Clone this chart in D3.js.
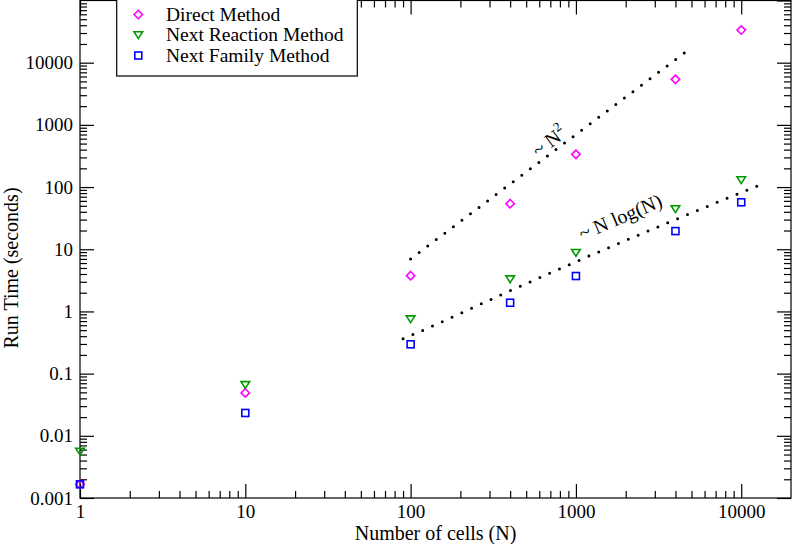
<!DOCTYPE html>
<html><head><meta charset="utf-8">
<script src="https://cdn.jsdelivr.net/npm/d3@7"></script>
<style>
html,body{margin:0;padding:0;background:#fff;}
svg{display:block;font-family:"Liberation Serif","Times New Roman",serif;}
</style></head>
<body>
<svg id="chart" width="792" height="544"></svg>
<script>
// ---- data ----
const cells = [1, 10, 100, 400, 1000, 4000, 10000];
const directMethod = [0.00166, 0.049, 3.76, 54, 336, 5400, 33500];
const nextReaction = [0.0056, 0.066, 0.755, 3.32, 8.8, 44.4, 130];
const nextFamily = [0.00166, 0.0233, 0.296, 1.38, 3.71, 19.6, 56.9];
const seriesNames = ["Direct Method", "Next Reaction Method", "Next Family Method"];
const xTickValues = [1, 10, 100, 1000, 10000];
const xTickLabels = ["1", "10", "100", "1000", "10000"];
const yTickValues = [0.001, 0.01, 0.1, 1, 10, 100, 1000, 10000];
const yTickLabels = ["0.001", "0.01", "0.1", "1", "10", "100", "1000", "10000"];
// guide lines
const guideSquareN = [100, 4600];
const guideSquareT = [7.0, 14800];
const guideNlogN_N = [90, 100, 400, 1000, 4000, 12500];
const guideNlogN_T = [0.365, 0.41, 2.15, 6.3, 30, 104];

const svg = d3.select("#chart");
const L = 80, R = 791, T = 0.5, B = 498;
const x = d3.scaleLog().domain([1, 20000]).range([L, R]);
const y = d3.scaleLog().domain([0.001, 100000]).range([B, T]);

function minors(lo, hi, maxv) {
  const out = [];
  for (let e = lo; e <= hi; e++) for (let m = 2; m <= 9; m++) {
    const v = m * Math.pow(10, e);
    if (v < maxv) out.push(v);
  }
  return out;
}
const xMinor = minors(0, 4, 20000);
const yMinor = minors(-3, 4, 100000);

const tickFont = "19px";
function styleAxis(g) {
  g.select(".domain").remove();
  g.selectAll("line").attr("stroke", "#000").attr("stroke-width", 1.2);
  g.selectAll("text").attr("font-size", tickFont).attr("fill", "#000")
    .attr("font-family", "Liberation Serif, Times New Roman, serif");
}

// bottom
svg.append("g").attr("transform", `translate(0,${B})`)
  .call(d3.axisBottom(x).tickValues(xTickValues).tickSize(-14).tickPadding(6.5)
    .tickFormat((d, i) => xTickLabels[i])).call(styleAxis);
svg.append("g").attr("transform", `translate(0,${B})`)
  .call(d3.axisBottom(x).tickValues(xMinor).tickSize(-7).tickFormat("")).call(styleAxis);
// top
svg.append("g").attr("transform", `translate(0,${T})`)
  .call(d3.axisTop(x).tickValues(xTickValues).tickSize(-14).tickFormat("")).call(styleAxis);
svg.append("g").attr("transform", `translate(0,${T})`)
  .call(d3.axisTop(x).tickValues(xMinor).tickSize(-7).tickFormat("")).call(styleAxis);
// left
svg.append("g").attr("transform", `translate(${L},0)`)
  .call(d3.axisLeft(y).tickValues(yTickValues).tickSize(-14).tickPadding(7)
    .tickFormat((d, i) => yTickLabels[i])).call(styleAxis);
svg.append("g").attr("transform", `translate(${L},0)`)
  .call(d3.axisLeft(y).tickValues(yMinor).tickSize(-7).tickFormat("")).call(styleAxis);
// right
svg.append("g").attr("transform", `translate(${R},0)`)
  .call(d3.axisRight(y).tickValues(yTickValues.concat([100000])).tickSize(-14).tickFormat("")).call(styleAxis);
svg.append("g").attr("transform", `translate(${R},0)`)
  .call(d3.axisRight(y).tickValues(yMinor).tickSize(-7).tickFormat("")).call(styleAxis);

// frame
svg.append("rect").attr("x", L).attr("y", T).attr("width", R - L).attr("height", B - T)
  .attr("fill", "none").attr("stroke", "#000").attr("stroke-width", 1.2);

// guide lines
const line = d3.line().x(d => x(d[0])).y(d => y(d[1])).curve(d3.curveMonotoneX);
function guide(xs, ys) {
  svg.append("path").datum(xs.map((v, i) => [v, ys[i]])).attr("d", line)
    .attr("fill", "none").attr("stroke", "#000").attr("stroke-width", 3)
    .attr("stroke-linecap", "round").attr("stroke-dasharray", "0 10.7");
}
guide(guideSquareN, guideSquareT);
guide(guideNlogN_N, guideNlogN_T);

// markers
const sym = {
  diamond: (g, cx, cy, c) => g.append("path")
    .attr("d", `M${cx},${cy - 4.2}L${cx + 4.2},${cy}L${cx},${cy + 4.2}L${cx - 4.2},${cy}Z`)
    .attr("fill", "none").attr("stroke", c).attr("stroke-width", 1.6),
  triDown: (g, cx, cy, c) => g.append("path")
    .attr("d", `M${cx - 4.3},${cy - 3.2}L${cx + 4.3},${cy - 3.2}L${cx},${cy + 3.6}Z`)
    .attr("fill", "none").attr("stroke", c).attr("stroke-width", 1.6).attr("stroke-linejoin", "miter"),
  square: (g, cx, cy, c) => g.append("rect")
    .attr("x", cx - 3.5).attr("y", cy - 3.5).attr("width", 7).attr("height", 7)
    .attr("fill", "none").attr("stroke", c).attr("stroke-width", 1.6)
};
const series = [
  {name: seriesNames[0], vals: directMethod, shape: "diamond", color: "#ff00ff"},
  {name: seriesNames[1], vals: nextReaction, shape: "triDown", color: "#009a00"},
  {name: seriesNames[2], vals: nextFamily, shape: "square", color: "#0000ff"}
];
const pts = svg.append("g");
series.forEach(s => {
  s.vals.forEach((v, i) => sym[s.shape](pts, x(cells[i]), y(v), s.color));
});

// annotations
const ann1 = svg.append("text").attr("transform", "translate(538.4,157.7) rotate(-37)")
  .attr("font-size", "20px").attr("fill", "#000");
ann1.append("tspan").text("~ N");
ann1.append("tspan").attr("font-size", "13px").attr("dy", "-9").text("2");
svg.append("text").attr("transform", "translate(582.2,240.6) rotate(-23)")
  .attr("font-size", "20px").attr("fill", "#000").text("~ N log(N)");

// legend
const lg = svg.append("g");
lg.append("rect").attr("x", 116.7).attr("y", -1).attr("width", 240.6).attr("height", 77)
  .attr("fill", "#fff").attr("stroke", "#000").attr("stroke-width", 1.2);
const rowsY = [20.5, 41, 61.5];
series.forEach((s, i) => {
  sym[s.shape](lg, 138.3, rowsY[i] - 6, s.color);
  lg.append("text").attr("x", 166).attr("y", rowsY[i]).attr("font-size", "19.5px")
    .attr("fill", "#000").text(s.name);
});

// axis titles
svg.append("text").attr("x", (L + R) / 2).attr("y", 540).attr("text-anchor", "middle")
  .attr("font-size", "20px").attr("fill", "#000").text("Number of cells (N)");
svg.append("text").attr("transform", "translate(18,268) rotate(-90)")
  .attr("text-anchor", "middle").attr("font-size", "20px").attr("fill", "#000")
  .text("Run Time (seconds)");
</script>
</body></html>
